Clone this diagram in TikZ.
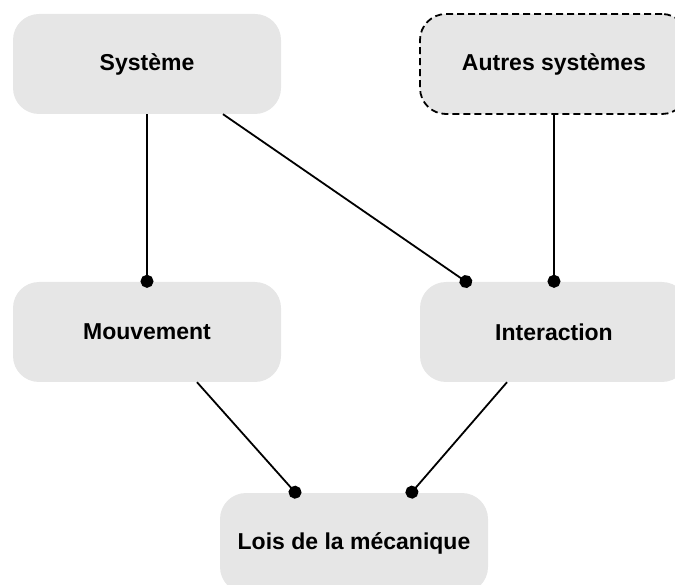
\documentclass[tikz,border=0pt]{standalone}
\usepackage{fontspec}
\setmainfont{Liberation Sans}
\usetikzlibrary{arrows.meta}
\definecolor{boxgray}{HTML}{E6E6E6}
\tikzset{
    box/.style = {rectangle, fill=boxgray, rounded corners=26pt,
        minimum width=268pt,
        minimum height=100pt,
        font=\fontsize{23}{27}\selectfont\bfseries},
    dashbox/.style = {box, draw, line width=1.8pt, dash pattern=on 7pt off 4pt},
    link/.style = {draw, line width=1.8pt, -{Circle[length=13pt]}, shorten >=1pt}
}

\begin{document}
\begin{tikzpicture}[x=1pt,y=-1pt]
                \useasboundingbox (0,0) rectangle (675,585);
                \clip (0,0) rectangle (675,585);
                \node[box] (sys) at (147,64) {Système};
                \node[dashbox] (autres) at (554,64) {Autres systèmes};
                \node[box] (mouv) at (147,332) {Mouvement};
                \node[box] (inter) at (554,332) {Interaction};
                \node[box] (lois) at (354,543) {Lois de la mécanique};
                \draw [link] (sys.south) -- ([yshift=-7pt]mouv.north);
                \draw [link] ([xshift=76pt]sys.south) -- ([xshift=-82pt,yshift=-4pt]inter.north);
                \draw [link] (autres.south) -- ([yshift=-7pt]inter.north);
                \draw [link] ([xshift=50pt]mouv.south) -- ([xshift=-54pt,yshift=-5pt]lois.north);
                \draw [link] ([xshift=-47pt]inter.south) -- ([xshift=53pt,yshift=-5pt]lois.north);
            \end{tikzpicture}
\end{document}
